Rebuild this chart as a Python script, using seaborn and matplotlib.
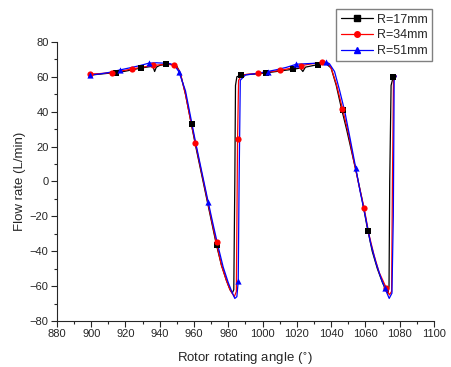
import matplotlib
matplotlib.use("Agg")
import matplotlib.pyplot as plt
from matplotlib.lines import Line2D
from matplotlib.ticker import MultipleLocator
import seaborn as sns
import pandas as pd

# curves (angle in degrees, flow rate in L/min)
ang_17 = [900, 905, 910, 915, 920, 925, 929, 933, 936, 937, 938, 940, 944, 948, 950, 952, 955, 958, 961, 964,
          967, 970, 973, 976, 979, 981, 982.3, 983.2, 983.8, 984.2, 985, 988, 995, 1002, 1008, 1014, 1018, 1022,
          1023.5, 1025, 1030, 1033, 1037, 1040, 1043, 1046, 1049, 1052, 1055, 1058, 1061, 1064, 1067, 1070,
          1072, 1073.2, 1073.8, 1074.2, 1075, 1076.2, 1078]
flow_17 = [61, 61.5, 62, 62.4, 63.2, 64.2, 65, 65.6, 66, 63, 65.5, 66.5, 67.2, 67, 66, 62, 50, 35, 20, 6,
           -8, -22, -36, -48, -57, -62, -64, -62, 0, 55, 60, 61.1, 61.5, 62.2, 63, 63.8, 64.3, 65,
           63, 65.5, 66.5, 67, 67.5, 65, 55, 42, 30, 17, 4, -10, -26, -40, -50, -58,
           -62, -64, -60, 0, 55, 59.8, 60]

ang_34 = [900, 905, 912, 918, 924, 930, 936, 942, 946, 948, 950, 952, 955, 958, 961, 964, 967, 970, 973, 976,
          979, 981, 983.5, 984.7, 985.4, 986, 988, 992, 997.5, 1004, 1010, 1016, 1022.7, 1028, 1034.4, 1038,
          1040, 1043, 1046.6, 1050, 1053, 1056, 1059.3, 1062, 1065, 1068, 1072.3, 1074, 1075.3, 1075.8,
          1076.4, 1078]
flow_34 = [61.6, 61.8, 62.4, 63.4, 64.5, 65.5, 66.5, 67, 67, 66.6, 65.5, 62, 50, 35, 21, 7,
           -7, -21, -35, -48, -57, -62, -66, -63, 24, 58, 61, 61.5, 62, 62.8, 63.6, 64.8, 66.4, 67.3, 68.2, 68,
           65, 56, 41.8, 28, 13, -1, -15.4, -30, -42, -52, -61.2, -65, -63, 0,
           58, 60.5]

ang_51 = [899.3, 905, 910, 916.8, 922, 928, 933.7, 938, 942, 946, 949, 951.2, 955, 958, 961, 964, 968.3, 971, 974,
          977, 980, 982, 983.8, 985, 985.8, 986.3, 987, 990, 996, 1002.9, 1008, 1014, 1019.8, 1026, 1032,
          1037.3, 1039, 1042, 1045, 1048, 1051, 1054.4, 1057, 1060, 1063, 1066, 1069, 1071.4, 1073.9, 1075.5,
          1076.3, 1076.8, 1078]
flow_51 = [61, 61.6, 62.4, 63.9, 65, 66.3, 67.8, 68, 67.8, 67.5, 66, 62.8, 52, 37, 22, 8, -11.9, -24, -37,
           -49, -58, -63, -67, -66, -57, 0, 58, 61, 61.8, 63, 64, 65.4, 67.2, 67.5, 67.8,
           68.2, 67.5, 63, 52, 40, 25, 7.6, -6, -20, -35, -46, -55, -61.2, -67, -64,
           -20, 58, 60.5]

# marker positions
mk_ang_17 = [914.6, 929, 943.4, 958.6, 973.2, 987.7, 1002.2, 1017.9, 1032.5, 1046.7, 1061.6, 1076.2]
mk_flow_17 = [62.4, 64.9, 67.2, 32.8, -36.4, 61.1, 62.2, 64.3, 66.8, 41, -28.2, 59.8]
mk_ang_34 = [899.3, 912, 923.9, 936, 948.3, 960.5, 973.2, 985.4, 997.5, 1010, 1022.7, 1034.4, 1046.6, 1059.3, 1072.3]
mk_flow_34 = [61.6, 62.4, 64.5, 66.5, 66.6, 21.9, -34.7, 24.2, 62, 63.6, 66.4, 68.2, 41.8, -15.4, -61.2]
mk_ang_51 = [899.3, 916.8, 933.7, 951.2, 968.3, 985.8, 1002.9, 1019.8, 1037.3, 1054.4, 1071.4]
mk_flow_51 = [61, 63.9, 67.8, 62.8, -11.9, -57, 63, 67.2, 68.2, 7.6, -61.2]

labels = ["R=17mm", "R=34mm", "R=51mm"]
colors = ["black", "red", "blue"]
markers = ["s", "o", "^"]

sns.set_style("ticks")
plt.rcParams['font.family'] = ['Liberation Sans', 'DejaVu Sans']

fig = plt.figure(figsize=(4.52, 3.67), dpi=100)
ax = fig.add_axes([0.126, 0.125, 0.834, 0.761])

curves = [(ang_17, flow_17, mk_ang_17, mk_flow_17),
          (ang_34, flow_34, mk_ang_34, mk_flow_34),
          (ang_51, flow_51, mk_ang_51, mk_flow_51)]
for (xa, ya, xm, ym), lab, c, m in zip(curves, labels, colors, markers):
    df = pd.DataFrame({"angle": xa, "flow": ya})
    sns.lineplot(data=df, x="angle", y="flow", sort=False, color=c, linewidth=0.9, ax=ax, estimator=None)
    dm = pd.DataFrame({"angle": xm, "flow": ym})
    sns.scatterplot(data=dm, x="angle", y="flow", color=c, marker=m, s=20, linewidth=0, ax=ax, zorder=3)

ax.set_xlim(880, 1100)
ax.set_ylim(-80, 80)
ax.xaxis.set_major_locator(MultipleLocator(20))
ax.xaxis.set_minor_locator(MultipleLocator(10))
ax.yaxis.set_major_locator(MultipleLocator(20))
ax.yaxis.set_minor_locator(MultipleLocator(10))
ax.tick_params(which="major", direction="out", length=4, width=0.8, labelsize=8, pad=2)
ax.tick_params(which="minor", direction="out", length=2.5, width=0.8)
sns.despine(ax=ax)
ax.set_xlabel(r"Rotor rotating angle ($^{\circ}$)", fontsize=9.5, labelpad=8)
ax.set_ylabel("Flow rate (L/min)", fontsize=9.5, labelpad=3)

handles = [Line2D([0], [0], color=c, marker=m, markersize=4, linewidth=0.9)
           for c, m in zip(colors, markers)]
fig.legend(handles, labels, loc="upper right", bbox_to_anchor=(0.956, 0.975), fontsize=9,
           frameon=True, fancybox=False, edgecolor="gray", framealpha=1,
           handlelength=2.6, handletextpad=0.3, labelspacing=0.3, borderpad=0.35, borderaxespad=0)

fig.savefig("out.png", dpi=100)
